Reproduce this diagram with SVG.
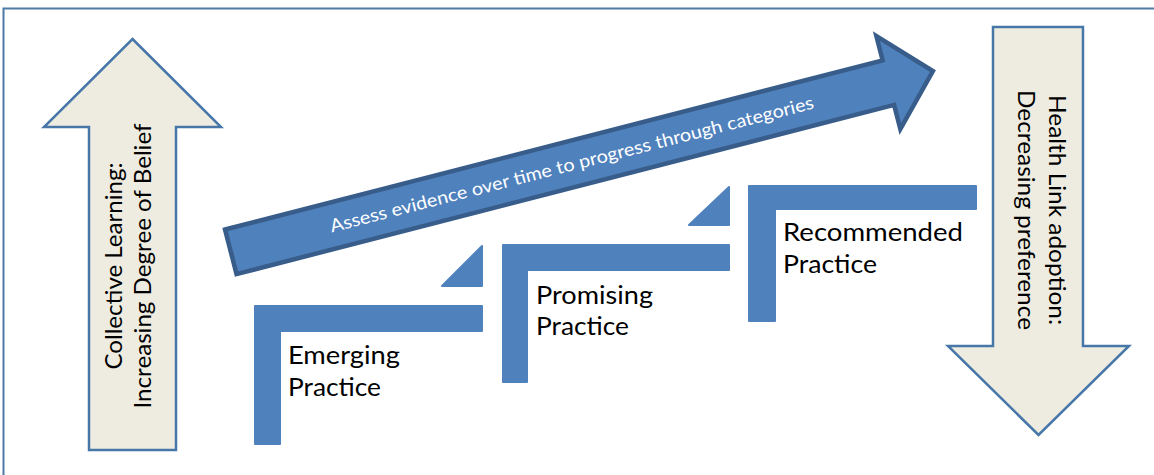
<svg xmlns="http://www.w3.org/2000/svg" width="1154" height="475" viewBox="0 0 1154 475">
  <style>
    .beige { fill: #EEECE1; stroke: #4777A8; stroke-width: 2.5; stroke-linejoin: miter; }
    .step { fill: #4F81BD; stroke: #4F81BD; stroke-width: 2; stroke-linejoin: round; }
    .big { font-family: Lato, "Liberation Sans", sans-serif; fill: #000; }
    .arrowtxt { font-size: 24px; text-anchor: middle; }
    .steptxt { font-size: 25px; }
    .diag { font-family: Lato, "Liberation Sans", sans-serif; font-size: 18px; fill: #FFFFFF; text-anchor: middle; }
  </style>
  <rect width="1154" height="475" fill="#FFFFFF"/>
  <rect id="frame" x="3.5" y="8.5" width="1170" height="480" fill="none" stroke="#4F7AA8" stroke-width="2"/>

  <g id="collective-learning">
    <path class="beige" d="M132.5,39 L221,127 H176 V450 H89 V127 H44 Z"/>
    <text class="big arrowtxt" transform="translate(122,266) rotate(-90)" textLength="207" lengthAdjust="spacingAndGlyphs">Collective Learning:</text>
    <text class="big arrowtxt" transform="translate(151,266) rotate(-90)" textLength="285" lengthAdjust="spacingAndGlyphs">Increasing Degree of Belief</text>
  </g>

  <g id="health-link-adoption">
    <path class="beige" d="M993,27 H1083 V346 H1129 L1038.5,435 L948,346 H993 Z"/>
    <text class="big arrowtxt" transform="translate(1049,210) rotate(90)" textLength="230" lengthAdjust="spacingAndGlyphs">Health Link adoption:</text>
    <text class="big arrowtxt" transform="translate(1018,210) rotate(90)" textLength="240" lengthAdjust="spacingAndGlyphs">Decreasing preference</text>
  </g>

  <g id="emerging-practice">
    <path class="step" d="M255,306 H482 V331 H280 V444 H255 Z"/>
    <path class="step" d="M482,246 V286 H442 Z"/>
    <text class="big steptxt" x="288" y="364" textLength="112" lengthAdjust="spacingAndGlyphs">Emerging</text>
    <text class="big steptxt" x="288" y="396" textLength="93" lengthAdjust="spacingAndGlyphs">Practice</text>
  </g>

  <g id="promising-practice">
    <path class="step" d="M503,245 H729 V270 H527 V382 H503 Z"/>
    <path class="step" d="M729,187 V225 H689 Z"/>
    <text class="big steptxt" x="536" y="304" textLength="117" lengthAdjust="spacingAndGlyphs">Promising</text>
    <text class="big steptxt" x="536" y="335" textLength="93" lengthAdjust="spacingAndGlyphs">Practice</text>
  </g>

  <g id="recommended-practice">
    <path class="step" d="M749,186 H976 V209 H775 V321 H749 Z"/>
    <text class="big steptxt" x="783" y="241" textLength="180" lengthAdjust="spacingAndGlyphs">Recommended</text>
    <text class="big steptxt" x="783" y="273" textLength="94" lengthAdjust="spacingAndGlyphs">Practice</text>
  </g>

  <g id="connectors">
    <g id="assess-evidence-arrow" transform="translate(228.85,252.3) rotate(-14.43)">
      <path d="M2,-23 H681 V-48 L727,0 L681,48 V23 H2 Z" fill="#4F81BD" stroke="#385D8A" stroke-width="4.5" stroke-linejoin="miter"/>
      <text class="diag" x="354" y="6.5" textLength="499" lengthAdjust="spacingAndGlyphs">Assess evidence over time to progress through categories</text>
    </g>
  </g>
</svg>
